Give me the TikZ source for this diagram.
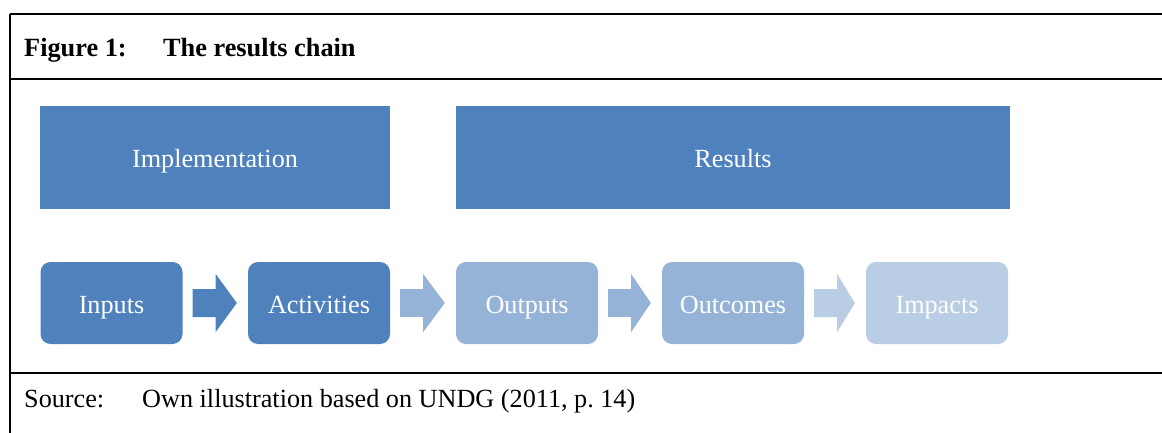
\documentclass[tikz,border=0pt]{standalone}
\usepackage{fontspec}
\setmainfont{Liberation Serif}
\usetikzlibrary{calc}

\definecolor{darkblue}{HTML}{4F81BD}
\definecolor{midblue}{HTML}{95B3D7}
\definecolor{lightblue}{HTML}{B9CDE5}

\tikzset{
    bigbox/.style={fill=darkblue, text=white, minimum height=103pt, inner sep=0pt,
        text height=24pt, text depth=4pt},
    stepbox/.style={rounded corners=10pt, text=white, minimum width=142pt,
        minimum height=82pt, inner sep=0pt, text height=24pt, text depth=4pt},
    rule/.style={line width=2pt},
    txt/.style={anchor=base west, inner sep=0pt}
}

% block arrow between two boxes: from, to, colour
\newcommand{\chainarrow}[3]{
    \fill[#3] ($(#1.east)+(10,-14)$) -- ($(#1.east)+(33,-14)$)
        -- ($(#1.east)+(33,-29)$) -- ($(#2.west)+(-11,0)$)
        -- ($(#1.east)+(33,29)$) -- ($(#1.east)+(33,14)$)
        -- ($(#1.east)+(10,14)$) -- cycle;
}

\begin{document}
\begin{tikzpicture}[x=1pt, y=-1pt, font=\fontsize{26.2}{30}\selectfont]
    \useasboundingbox (0,0) rectangle (1162,433);

    % Frame of the figure
    \draw[rule] (10,14) -- (1162,14);
    \draw[rule] (10,79) -- (1162,79);
    \draw[rule] (10,373) -- (1162,373);
    \draw[rule] (10,14) -- (10,433);

    % Title
    \node[txt, font=\fontsize{26.3}{30}\selectfont\bfseries] (fig) at (24,57) {Figure 1:};
    \node[txt, font=\fontsize{26.3}{30}\selectfont\bfseries] (title) at (163,57) {The results chain};

    % Top row
    \node[bigbox, minimum width=350pt] (impl) at (215,157.5) {Implementation};
    \node[bigbox, minimum width=554pt] (res) at (733,157.5) {Results};

    % The chain
    \node[stepbox, fill=darkblue] (inp) at (111.5,303) {Inputs};
    \node[stepbox, fill=darkblue] (act) at (319,303) {Activities};
    \node[stepbox, fill=midblue] (outp) at (527,303) {Outputs};
    \node[stepbox, fill=midblue] (outc) at (733,303) {Outcomes};
    \node[stepbox, fill=lightblue] (imp) at (937,303) {Impacts};

    \chainarrow{inp}{act}{darkblue}
    \chainarrow{act}{outp}{midblue}
    \chainarrow{outp}{outc}{midblue}
    \chainarrow{outc}{imp}{lightblue}

    % Source line
    \node[txt] (src) at (24,407) {Source:};
    \node[txt] (srctext) at (142,407) {Own illustration based on UNDG (2011, p.~14)};
\end{tikzpicture}
\end{document}
